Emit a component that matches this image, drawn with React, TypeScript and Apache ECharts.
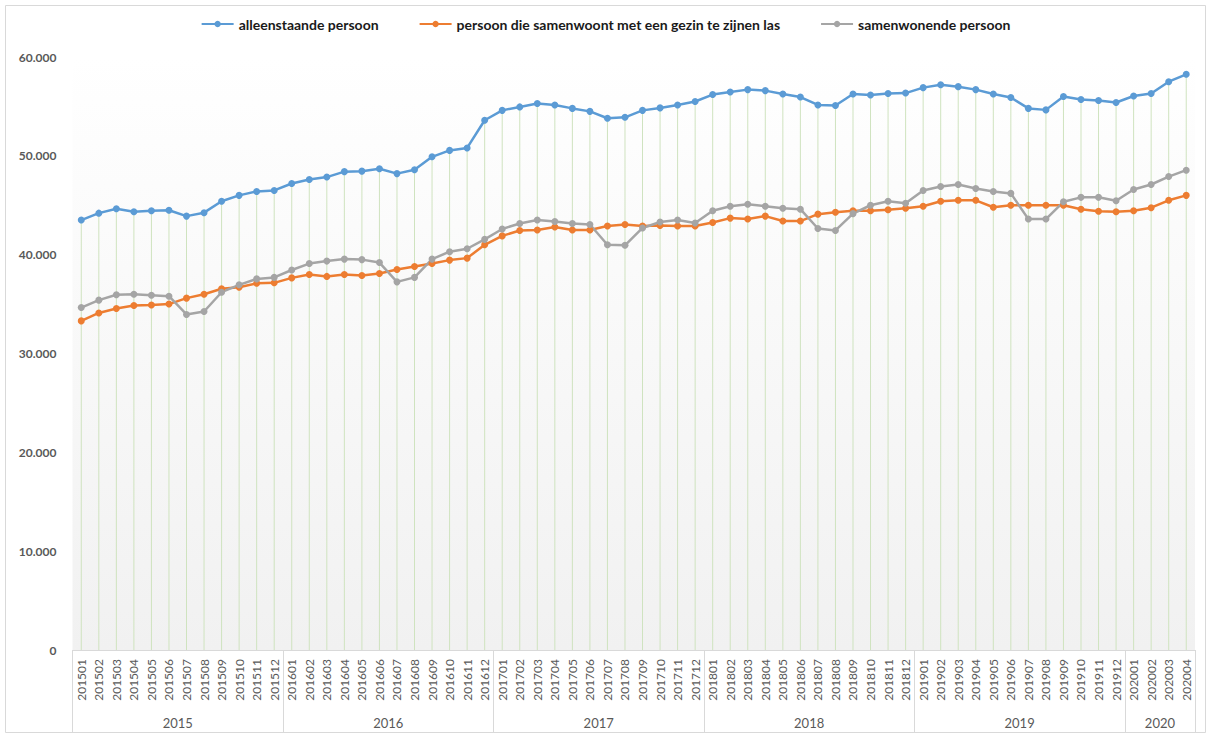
import React, { useEffect, useRef } from 'react';
import * as echarts from 'echarts';

const months = [
  '201501','201502','201503','201504','201505','201506','201507','201508','201509','201510','201511','201512',
  '201601','201602','201603','201604','201605','201606','201607','201608','201609','201610','201611','201612',
  '201701','201702','201703','201704','201705','201706','201707','201708','201709','201710','201711','201712',
  '201801','201802','201803','201804','201805','201806','201807','201808','201809','201810','201811','201812',
  '201901','201902','201903','201904','201905','201906','201907','201908','201909','201910','201911','201912',
  '202001','202002','202003','202004'
];

const alleenstaande = [
  43500, 44200, 44650, 44350, 44450, 44500, 43900, 44250, 45400, 46000, 46400, 46500,
  47200, 47600, 47850, 48400, 48450, 48700, 48200, 48600, 49900, 50550, 50800, 53600,
  54600, 54950, 55300, 55150, 54800, 54500, 53800, 53900, 54600, 54850, 55150, 55500,
  56200, 56450, 56700, 56600, 56250, 55950, 55150, 55100, 56250, 56150, 56300, 56350,
  56900, 57200, 57000, 56700, 56250, 55900, 54800, 54650, 56000, 55700, 55600, 55400,
  56050, 56300, 57500, 58250
];

const gezinTeLaste = [
  33300, 34100, 34550, 34850, 34900, 35000, 35600, 36000, 36550, 36700, 37100, 37150,
  37650, 38000, 37800, 38000, 37900, 38100, 38500, 38800, 39100, 39450, 39650, 41000,
  41900, 42450, 42500, 42800, 42500, 42500, 42900, 43050, 42900, 42950, 42900, 42900,
  43250, 43700, 43600, 43900, 43400, 43400, 44100, 44300, 44450, 44450, 44550, 44700,
  44900, 45400, 45500, 45500, 44800, 45000, 45000, 45000, 45000, 44600, 44400, 44350,
  44450, 44750, 45500, 46000
];

const samenwonend = [
  34650, 35400, 35950, 36000, 35900, 35800, 33950, 34250, 36200, 36950, 37550, 37700,
  38450, 39100, 39350, 39550, 39500, 39200, 37250, 37700, 39550, 40300, 40600, 41550,
  42600, 43150, 43500, 43350, 43150, 43050, 41000, 40950, 42700, 43300, 43500, 43200,
  44450, 44900, 45100, 44900, 44700, 44600, 42650, 42450, 44150, 45000, 45400, 45200,
  46500, 46900, 47100, 46700, 46400, 46200, 43600, 43600, 45350, 45800, 45800, 45450,
  46600, 47100, 47900, 48550
];

const seriesNames = [
  'alleenstaande persoon',
  'persoon die samenwoont met een gezin te zijnen las',
  'samenwonende persoon',
];

export default function App() {
  const ref = useRef<HTMLDivElement>(null);

  useEffect(() => {
    const chart = echarts.init(ref.current as HTMLDivElement, null, { renderer: 'svg' });
    const font = 'Lato';
    const gridLeft = 72.5;
    const gridRight = 16;
    const bandWidth = (1211 - gridLeft - gridRight) / months.length;

    const lineSeries = (name: string, data: number[], color: string) => ({
      name,
      type: 'line',
      data,
      xAxisIndex: 0,
      yAxisIndex: 0,
      symbol: 'circle',
      symbolSize: 7,
      showSymbol: true,
      lineStyle: { color, width: 2.5 },
      itemStyle: { color },
      z: 3,
    });

    chart.setOption({
      animation: false,
      backgroundColor: '#ffffff',
      textStyle: { fontFamily: font },
      graphic: [
        {
          type: 'rect',
          silent: true,
          z: -10,
          shape: { x: 5.5, y: 5.5, width: 1200, height: 727 },
          style: { fill: 'none', stroke: '#d9d9d9', lineWidth: 1 },
        },
      ],
      legend: {
        top: 12,
        left: 'center',
        itemWidth: 32,
        itemHeight: 8,
        itemGap: 40,
        data: seriesNames,
        textStyle: { fontFamily: font, fontWeight: 'bold', fontSize: 14, color: '#1a1a1a' },
      },
      grid: {
        left: gridLeft,
        right: gridRight,
        top: 57,
        bottom: 85,
        show: true,
        borderWidth: 0,
        backgroundColor: new echarts.graphic.LinearGradient(0, 0, 0, 1, [
          { offset: 0, color: '#ffffff' },
          { offset: 1, color: '#f1f1f1' },
        ]),
      },
      xAxis: [
        {
          type: 'category',
          data: months,
          boundaryGap: true,
          position: 'bottom',
          axisLine: { show: true, lineStyle: { color: '#d9d9d9', width: 1 } },
          axisTick: { show: false },
          splitLine: { show: false },
          axisLabel: {
            interval: 0,
            rotate: 90,
            margin: 9,
            fontFamily: font,
            fontSize: 12,
            color: '#595959',
          },
        },
        {
          type: 'category',
          data: months,
          boundaryGap: true,
          position: 'bottom',
          offset: 0,
          axisLine: { show: false },
          axisTick: {
            show: true,
            length: 83,
            interval: (i: number) => i % 12 === 0,
            lineStyle: { color: '#d9d9d9', width: 1 },
          },
          splitLine: { show: false },
          axisLabel: {
            interval: (i: number) => i % 12 === 6 || i === 62,
            margin: 66,
            padding: [0, bandWidth, 0, 0],
            formatter: (v: string) => v.slice(0, 4),
            fontFamily: font,
            fontSize: 13,
            color: '#595959',
          },
        },
      ],
      yAxis: {
        type: 'value',
        min: 0,
        max: 60000,
        interval: 10000,
        axisLine: { show: false },
        axisTick: { show: false },
        splitLine: { show: false },
        axisLabel: {
          margin: 16,
          fontFamily: font,
          fontWeight: 'bold',
          fontSize: 12,
          color: '#595959',
          formatter: (v: number) => (v === 0 ? '0' : `${v / 1000}.000`),
        },
      },
      series: [
        {
          name: 'droplines',
          type: 'bar',
          data: alleenstaande,
          xAxisIndex: 0,
          yAxisIndex: 0,
          barWidth: 1,
          silent: true,
          itemStyle: { color: '#cfe3bf' },
          z: 1,
        },
        lineSeries(seriesNames[0], alleenstaande, '#5b9bd5'),
        lineSeries(seriesNames[1], gezinTeLaste, '#ed7d31'),
        lineSeries(seriesNames[2], samenwonend, '#a5a5a5'),
      ],
    });

    return () => chart.dispose();
  }, []);

  return (
    <div
      ref={ref}
      style={{ position: 'absolute', left: 0, top: 0, width: 1211, height: 735 }}
    />
  );
}
